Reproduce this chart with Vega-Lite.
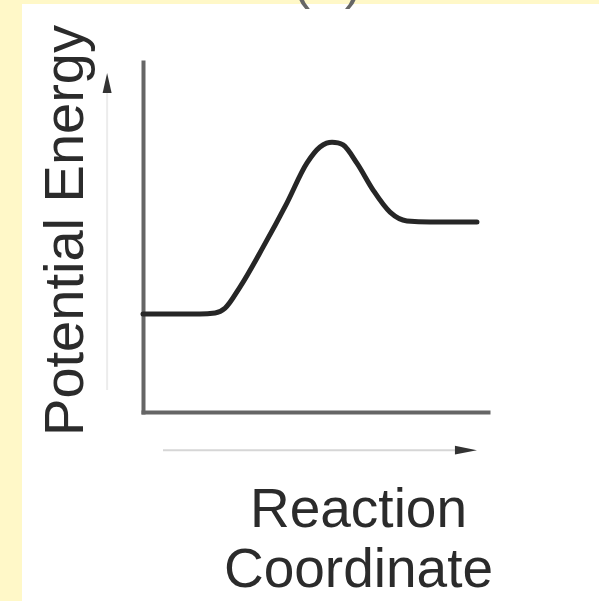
{
  "$schema": "https://vega.github.io/schema/vega-lite/v6.json",
  "width": 577,
  "height": 597,
  "autosize": {"type": "none"},
  "padding": {"left": 22, "top": 4, "right": 0, "bottom": 0},
  "background": "#FFF8C8",
  "title": {
    "text": "(A)",
    "frame": "group",
    "anchor": "middle",
    "baseline": "alphabetic",
    "offset": -46,
    "dx": 17,
    "fontSize": 52,
    "font": "Liberation Sans",
    "fontWeight": "normal",
    "color": "#666666"
  },
  "config": {
    "view": {"fill": "white", "stroke": null},
    "font": "Liberation Sans"
  },
  "datasets": {
    "curve": [
      {"x": 0, "y": 28.0},
      {"x": 16.5, "y": 28.0},
      {"x": 20.9, "y": 28.3},
      {"x": 23.8, "y": 29.7},
      {"x": 28.1, "y": 35.7},
      {"x": 34.8, "y": 47.1},
      {"x": 41.7, "y": 59.7},
      {"x": 47.5, "y": 71.1},
      {"x": 51.3, "y": 75.7},
      {"x": 53.2, "y": 76.8},
      {"x": 54.8, "y": 77.1},
      {"x": 56.5, "y": 76.9},
      {"x": 58.0, "y": 76.3},
      {"x": 62.0, "y": 71.1},
      {"x": 66.7, "y": 63.4},
      {"x": 71.6, "y": 57.1},
      {"x": 76.5, "y": 54.6},
      {"x": 83.2, "y": 54.3},
      {"x": 96.8, "y": 54.3}
    ],
    "hArrow": [{"x": 5.8, "x2": 93.0, "y": -10.9}],
    "vArrow": [{"x": -10.4, "y": 6.3, "y2": 93.0}],
    "heads": [
      {"x": 93.6, "y": -10.9, "dir": "right"},
      {"x": -10.4, "y": 94.0, "dir": "up"}
    ]
  },
  "layer": [
    {
      "data": {"name": "hArrow"},
      "mark": {"type": "rule", "color": "#d6d6d6", "strokeWidth": 2},
      "encoding": {
        "x": {"field": "x", "type": "quantitative"},
        "x2": {"field": "x2"},
        "y": {"field": "y", "type": "quantitative"}
      }
    },
    {
      "data": {"name": "vArrow"},
      "mark": {"type": "rule", "color": "#ececec", "strokeWidth": 2},
      "encoding": {
        "x": {"field": "x", "type": "quantitative"},
        "y": {"field": "y", "type": "quantitative"},
        "y2": {"field": "y2"}
      }
    },
    {
      "data": {"name": "heads"},
      "transform": [{"filter": "datum.dir == 'right'"}],
      "mark": {"type": "point", "filled": true, "color": "#333333", "opacity": 1, "shape": "M -1 -0.4 L 1 0 L -1 0.4 Z", "size": 484},
      "encoding": {
        "x": {"field": "x", "type": "quantitative"},
        "y": {"field": "y", "type": "quantitative"}
      }
    },
    {
      "data": {"name": "heads"},
      "transform": [{"filter": "datum.dir == 'up'"}],
      "mark": {"type": "point", "filled": true, "color": "#333333", "opacity": 1, "shape": "M -0.45 1 L 0 -1 L 0.45 1 Z", "size": 400},
      "encoding": {
        "x": {"field": "x", "type": "quantitative"},
        "y": {"field": "y", "type": "quantitative"}
      }
    },
    {
      "data": {"name": "curve"},
      "mark": {"type": "line", "interpolate": "monotone", "color": "#262626", "strokeWidth": 5, "strokeCap": "round"},
      "encoding": {
        "x": {
          "field": "x",
          "type": "quantitative",
          "scale": {"domain": [0, 100], "range": [121, 466], "nice": false, "zero": false},
          "axis": {
            "title": ["Reaction", "Coordinate"],
            "offset": -189,
            "ticks": false,
            "labels": false,
            "grid": false,
            "domainColor": "#666666",
            "domainWidth": 4,
            "domainCap": "square",
            "titleFont": "Liberation Sans",
            "titleFontSize": 55,
            "titleFontWeight": "normal",
            "titleColor": "#2b2b2b",
            "titleLineHeight": 60,
            "titleBaseline": "alphabetic",
            "titleAlign": "center",
            "titleAnchor": null,
            "titleX": 336,
            "titleY": 114
          }
        },
        "y": {
          "field": "y",
          "type": "quantitative",
          "scale": {"domain": [0, 100], "range": [408, 58], "nice": false, "zero": false},
          "axis": {
            "title": "Potential Energy",
            "offset": -121,
            "ticks": false,
            "labels": false,
            "grid": false,
            "domainColor": "#666666",
            "domainWidth": 4,
            "domainCap": "square",
            "titleFont": "Liberation Sans",
            "titleFontSize": 56,
            "titleFontWeight": "normal",
            "titleColor": "#2b2b2b",
            "titleAngle": -90,
            "titleBaseline": "alphabetic",
            "titleAlign": "center",
            "titleX": -61,
            "titleY": 226
          }
        }
      }
    }
  ]
}
